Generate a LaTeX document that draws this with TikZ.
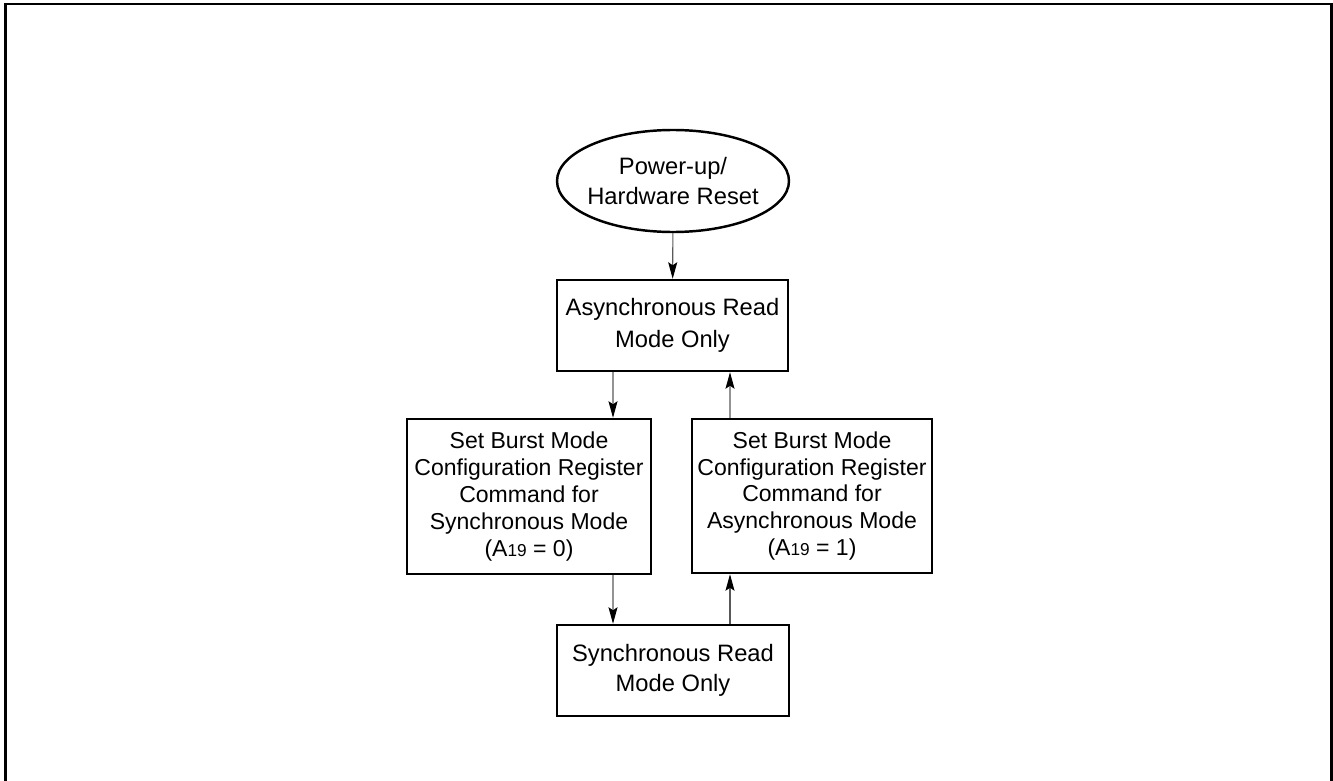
\documentclass[tikz,border=0pt]{standalone}
\usepackage{fontspec}
\setmainfont{Liberation Sans}
\usetikzlibrary{arrows.meta,shapes.geometric}

\begin{document}
\begin{tikzpicture}[
      mode/.style={
        draw=black,
        line width=1.4pt,
        align=center,
        inner sep=0pt,
        font=\fontsize{13.5}{16}\selectfont
      },
      start/.style={
        mode,
        ellipse,
        inner xsep=-0.1cm
      },
      flow/.style={
        draw=black!65,
        line width=0.6pt,
        -{Stealth[length=0.33cm,width=0.18cm,inset=0.06cm,black]}
      }
    ]
      \useasboundingbox (0,0) rectangle (26.66,-15.62);
      \draw[line width=1.7pt] (0.11,-16) -- (0.11,-0.08) -- (26.62,-0.08) -- (26.62,-16);

      \node (reset) at (13.46,-3.62) [start,minimum width=4.64cm,minimum height=2.04cm,
        font=\fontsize{13.5}{17}\selectfont]
        {Power-up/\\Hardware Reset};
      \node (async) at (13.45,-6.51) [mode,minimum width=4.62cm,minimum height=1.82cm,
        font=\fontsize{13.5}{18.5}\selectfont]
        {Asynchronous Read\\Mode Only};
      \node (setsync) at (10.58,-9.93) [mode,minimum width=4.88cm,minimum height=3.1cm,
        font=\fontsize{13.1}{15.3}\selectfont]
        {Set Burst Mode\\Configuration Register\\Command for\\Synchronous Mode\\(A{\fontsize{9.8}{10}\selectfont 19} = 0)};
      \node (setasync) at (16.24,-9.92) [mode,minimum width=4.8cm,minimum height=3.08cm,
        font=\fontsize{13.1}{15.3}\selectfont]
        {Set Burst Mode\\Configuration Register\\Command for\\Asynchronous Mode\\(A{\fontsize{9.8}{10}\selectfont 19} = 1)};
      \node (sync) at (13.46,-13.41) [mode,minimum width=4.64cm,minimum height=1.82cm,
        font=\fontsize{13.5}{17}\selectfont]
        {Synchronous Read\\Mode Only};

      \draw[flow] (reset) -- (async);
      \draw[flow] ([xshift=-1.19cm]async.south) -- ([xshift=1.68cm]setsync.north);
      \draw[flow] ([xshift=1.68cm]setsync.south) -- ([xshift=-1.2cm]sync.north);
      \draw[flow] ([xshift=1.14cm]sync.north) -- ([xshift=-1.64cm]setasync.south);
      \draw[flow] ([xshift=-1.64cm]setasync.north) -- ([xshift=1.15cm]async.south);

    \end{tikzpicture}
\end{document}
